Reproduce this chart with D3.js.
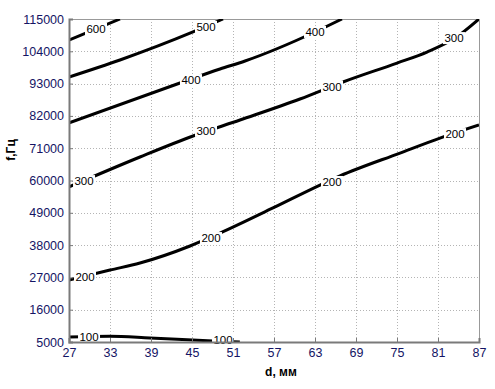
<!DOCTYPE html>
<html>
<head>
<meta charset="utf-8">
<script src="https://cdn.jsdelivr.net/npm/d3@7"></script>
<style>
  body { margin: 0; background: #fff; }
  text { font-family: "Liberation Sans", Arial, sans-serif; }
</style>
</head>
<body>
<div id="chart"></div>
<script>
const width = 495, height = 389;
const margin = {top: 19, right: 16, bottom: 47, left: 69};

// axis ticks
const xTicks = [27, 33, 39, 45, 51, 57, 63, 69, 75, 81, 87];
const yTicks = [5000, 16000, 27000, 38000, 49000, 60000, 71000, 82000, 93000, 104000, 115000];

// contour lines, [d, f]
const c600 = [[27, 107850], [30.95, 111600], [34.46, 115000]];
const c500 = [[27, 95250], [34.46, 101050], [45.15, 110600], [49.54, 115000]];
const c400 = [[27, 79600], [43.24, 93200], [49.1, 97970], [52.76, 100700], [63, 110570], [66.95, 115000]];
const c300 = [[27, 57800], [37.39, 68000], [45.15, 75150], [52.02, 80600], [60.8, 87750], [67.1, 93550],
              [75, 100000], [79.39, 103750], [83.49, 108500], [87, 115000]];
const c200 = [[27, 26100], [33, 29500], [37.39, 31900], [44.71, 37700], [49.1, 42100], [56.85, 50650],
              [63.73, 58450], [66.66, 61550], [75.44, 69350], [81.29, 74450], [87, 78900]];
const c100 = [[27, 6700], [33, 7000], [38.85, 6400], [48.07, 5350], [52, 5000]];
const contours = [c600, c500, c400, c300, c200, c100];

// inline labels, [d, f, text]
const contourLabels = [
  [30.95, 111600, "600"], [47.05, 112300, "500"],
  [44.85, 94200, "400"], [63, 110600, "400"],
  [29.2, 59800, "300"], [47.05, 76900, "300"], [65.49, 92000, "300"], [83.34, 108500, "300"],
  [29.34, 27100, "200"], [47.78, 40400, "200"], [65.49, 59500, "200"], [83.49, 75800, "200"],
  [29.93, 6700, "100"], [49.54, 5700, "100"]
];

const svg = d3.select("#chart").append("svg")
    .attr("width", width)
    .attr("height", height);

const x = d3.scaleLinear().domain([27, 87]).range([margin.left, width - margin.right]);
const y = d3.scaleLinear().domain([5000, 115000]).range([height - margin.bottom, margin.top]);

svg.append("defs").append("clipPath").attr("id", "clip")
  .append("rect")
    .attr("x", x(27)).attr("y", y(115000))
    .attr("width", x(87) - x(27)).attr("height", y(5000) - y(115000));

// grid
const grid = svg.append("g");
grid.selectAll(".gx").data(xTicks.slice(1, -1)).enter().append("line")
    .attr("x1", d => Math.round(x(d)) + 0.5).attr("x2", d => Math.round(x(d)) + 0.5)
    .attr("y1", y(115000)).attr("y2", y(5000))
    .style("stroke", "#b4b4b4").style("stroke-dasharray", "1,2");
grid.selectAll(".gy").data(yTicks.slice(1, -1)).enter().append("line")
    .attr("y1", d => Math.round(y(d)) + 0.5).attr("y2", d => Math.round(y(d)) + 0.5)
    .attr("x1", x(27)).attr("x2", x(87))
    .style("stroke", "#b4b4b4").style("stroke-dasharray", "1,2");

// box
svg.append("line").attr("x1", x(27)).attr("x2", x(87)).attr("y1", y(115000) + 0.5).attr("y2", y(115000) + 0.5)
    .style("stroke", "#999");
svg.append("line").attr("x1", x(87) + 0.5).attr("x2", x(87) + 0.5).attr("y1", y(115000)).attr("y2", y(5000))
    .style("stroke", "#999");

// contour lines
const line = d3.line()
    .x(d => x(d[0]))
    .y(d => y(d[1]))
    .curve(d3.curveMonotoneX);

svg.append("g").attr("clip-path", "url(#clip)")
  .selectAll("path").data(contours).enter().append("path")
    .attr("d", line)
    .style("fill", "none")
    .style("stroke", "#000")
    .style("stroke-width", 3);

// contour labels
const lab = svg.append("g").selectAll("g").data(contourLabels).enter().append("g")
    .attr("transform", d => `translate(${x(d[0])},${y(d[1])})`);
lab.append("rect")
    .attr("x", -11).attr("y", -6).attr("width", 22).attr("height", 12)
    .style("fill", "#fff");
lab.append("text")
    .attr("text-anchor", "middle")
    .attr("dy", "0.36em")
    .style("font-size", "11.5px")
    .style("fill", "#000")
    .text(d => d[2]);

// axes
const xAxis = svg.append("g")
    .attr("transform", `translate(0,${y(5000)})`)
    .call(d3.axisBottom(x).tickValues(xTicks).tickSize(-4).tickPadding(6));
const yAxis = svg.append("g")
    .attr("transform", `translate(${x(27)},0)`)
    .call(d3.axisLeft(y).tickValues(yTicks).tickFormat(d3.format("d")).tickSize(-4).tickPadding(5));

[xAxis, yAxis].forEach(a => {
  a.select(".domain").style("stroke", "#7a7a7a").style("stroke-width", 2);
  a.selectAll(".tick line").style("stroke", "#7a7a7a");
  a.selectAll(".tick text")
      .style("font-size", "12.5px")
      .style("fill", "#141464")
      .style("font-family", "'Liberation Sans', Arial, sans-serif");
});

// axis titles
svg.append("text")
    .attr("x", 281)
    .attr("y", 376)
    .attr("text-anchor", "middle")
    .style("font-size", "12px")
    .style("font-weight", "bold")
    .text("d, мм");

svg.append("text")
    .attr("transform", "translate(15,150) rotate(-90)")
    .attr("text-anchor", "middle")
    .style("font-size", "12px")
    .style("font-weight", "bold")
    .text("f,Гц");
</script>
</body>
</html>
